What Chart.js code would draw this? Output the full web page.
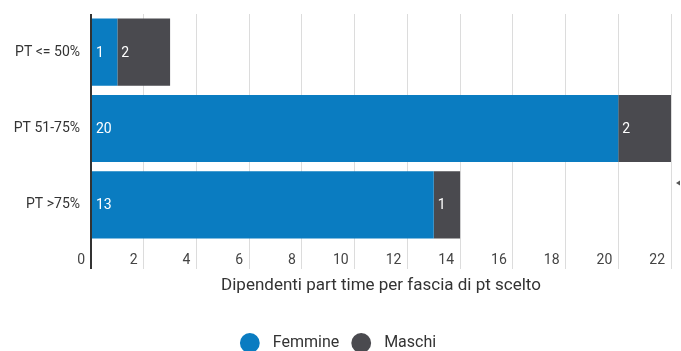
<!DOCTYPE html>
<html>
<head>
<meta charset="utf-8">
<script src="https://cdn.jsdelivr.net/npm/chart.js@4/dist/chart.umd.min.js"></script>
<style>
  html, body { margin: 0; padding: 0; background: #fff; }
  #wrap { width: 681px; height: 351px; position: relative; }
</style>
</head>
<body>
<div id="wrap"><canvas id="chart"></canvas></div>
<script>
const categories = ['PT <= 50%', 'PT 51-75%', 'PT >75%'];
const femmine = [1, 20, 13];
const maschi = [2, 2, 1];
const axisTitle = 'Dipendenti part time per fascia di pt scelto';

const BLUE = '#0a7cc1';
const GREY = '#4a4a4f';

// white value labels at the start of each segment
const segmentLabels = {
  id: 'segmentLabels',
  afterDatasetsDraw(chart) {
    const ctx = chart.ctx;
    ctx.save();
    ctx.font = '14px Roboto';
    ctx.fillStyle = '#ffffff';
    ctx.textAlign = 'left';
    ctx.textBaseline = 'middle';
    chart.data.datasets.forEach((ds, i) => {
      chart.getDatasetMeta(i).data.forEach((bar, j) => {
        const v = ds.data[j];
        if (!v) return;
        const left = Math.min(bar.x, bar.base);
        ctx.fillText(String(v), left + 4, bar.y + 1);
      });
    });
    ctx.restore();
  }
};

// small arrow at the right edge
const edgeArrow = {
  id: 'edgeArrow',
  afterDraw(chart) {
    const ctx = chart.ctx;
    ctx.save();
    ctx.fillStyle = '#555';
    ctx.beginPath();
    ctx.moveTo(676, 183);
    ctx.lineTo(680, 180.5);
    ctx.lineTo(680, 185.5);
    ctx.closePath();
    ctx.fill();
    ctx.restore();
  }
};

new Chart(document.getElementById('chart'), {
  type: 'bar',
  data: {
    labels: categories,
    datasets: [
      { label: 'Femmine', data: femmine, backgroundColor: BLUE, borderColor: BLUE },
      { label: 'Maschi', data: maschi, backgroundColor: GREY, borderColor: GREY }
    ]
  },
  options: {
    indexAxis: 'y',
    responsive: true,
    maintainAspectRatio: false,
    animation: false,
    layout: { padding: { top: 14, right: 10, left: 8, bottom: -10 } },
    datasets: {
      bar: { categoryPercentage: 1, barPercentage: 0.88 }
    },
    scales: {
      x: {
        stacked: true,
        min: 0,
        max: 22,
        border: { display: false },
        grid: {
          tickLength: 26,
          color: (c) => c.tick && c.tick.value === 0 ? '#333' : '#dcdcdc',
          lineWidth: (c) => c.tick && c.tick.value === 0 ? 2 : 1
        },
        ticks: {
          stepSize: 2,
          align: 'end',
          labelOffset: -6,
          padding: -17,
          maxRotation: 0,
          color: '#444',
          font: { family: 'Roboto', size: 14 }
        },
        title: {
          display: true,
          text: axisTitle,
          color: '#333',
          font: { family: 'Roboto', size: 17 },
          padding: { top: 0, bottom: 24 }
        },
        afterFit: (s) => { s.height = 77; }
      },
      y: {
        stacked: true,
        border: { display: false },
        grid: { display: false },
        ticks: {
          padding: 3,
          color: '#333',
          font: { family: 'Roboto', size: 14 }
        },
        afterFit: (s) => {
          s.width = 83;
          s.paddingTop = 0;
          s.paddingBottom = 0;
        }
      }
    },
    plugins: {
      legend: {
        position: 'bottom',
        labels: {
          usePointStyle: true,
          pointStyle: 'circle',
          boxWidth: 14,
          boxHeight: 14,
          padding: 15,
          color: '#333',
          font: { family: 'Roboto', size: 16 },
          // extra gap between the dot and its text
          generateLabels: (chart) =>
            Chart.defaults.plugins.legend.labels.generateLabels(chart)
              .map((item) => Object.assign(item, { text: '  ' + item.text }))
        }
      },
      tooltip: { enabled: false }
    }
  },
  plugins: [segmentLabels, edgeArrow]
});
</script>
</body>
</html>
